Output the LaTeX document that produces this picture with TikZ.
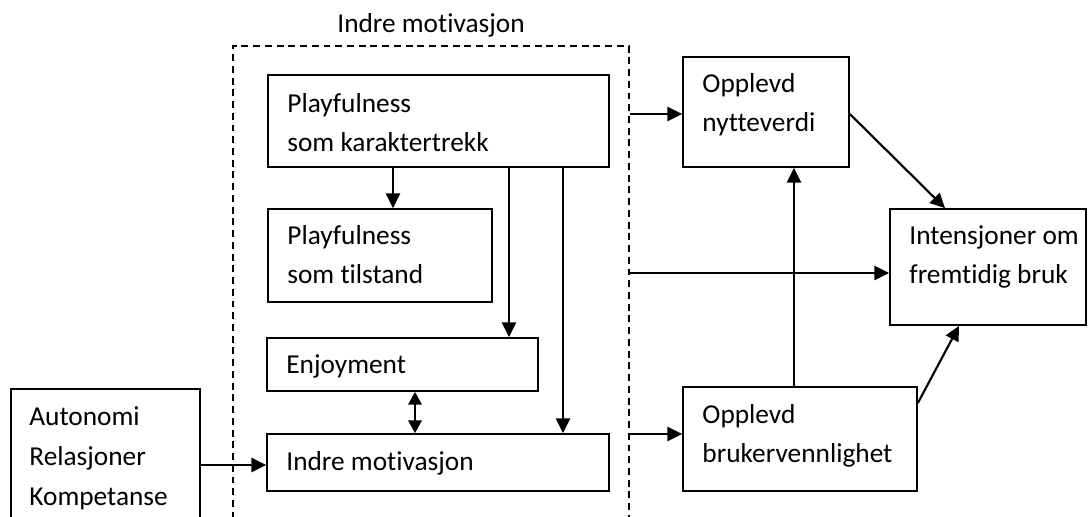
\documentclass[tikz,border=0pt]{standalone}
\usepackage{fontspec}
\setmainfont[Ligatures={NoCommon}]{Carlito}
\usetikzlibrary{arrows.meta,fit}

\begin{document}
\begin{tikzpicture}[x=0.75pt,y=-0.75pt,
  box/.style={draw, line width=1.3pt, inner sep=0pt},
  groupbox/.style={draw, dashed, dash pattern=on 5.2pt off 3.6pt, line width=1.2pt, inner sep=0pt},
  lbl/.style={font=\fontsize{20.5}{29}\selectfont, align=left, inner sep=0pt, anchor=north west},
  arr/.style={line width=1.6pt, -{Triangle[length=11pt,width=10.5pt]}},
  arrtwo/.style={line width=1.6pt, {Triangle[length=9.5pt,width=10pt]}-{Triangle[length=9.5pt,width=10pt]}}
]
\clip (0,0) rectangle (1088,517);

% dashed frame around the intrinsic-motivation block
\node[groupbox, fit={(233,46) (629,560)}] (im) {};
\node[font=\fontsize{20.5}{29}\selectfont, inner sep=0pt, anchor=base] (imtitle)
  at ([yshift=9.75pt]im.north) {Indre motivasjon};

% boxes
\node[box, fit={(268,75) (609,167)}] (kar) {};
\node[box, fit={(268,209) (492,302)}] (til) {};
\node[box, fit={(267,338) (538,391)}] (enj) {};
\node[box, fit={(267,434) (609,491)}] (ind) {};
\node[box, fit={(11,389) (200,560)}] (aut) {};
\node[box, fit={(683,57) (849,167)}] (nyt) {};
\node[box, fit={(683,387) (917,491)}] (bru) {};
\node[box, fit={(890,209) (1086,325)}] (int) {};

% box texts
\node[lbl] (karT) at ([shift={(20,11)}]kar.north west) {\strut Playfulness\\som karaktertrekk};
\node[lbl] (tilT) at ([shift={(20,9)}]til.north west) {\strut Playfulness\\som tilstand};
\node[lbl] (enjT) at ([shift={(20,9)}]enj.north west) {\strut Enjoyment};
\node[lbl] (indT) at ([shift={(20,10)}]ind.north west) {\strut Indre motivasjon};
\node[lbl, font=\fontsize{20.5}{30}\selectfont] (autT) at ([shift={(19,9)}]aut.north west) {\strut Autonomi\\Relasjoner\\Kompetanse};
\node[lbl] (nytT) at ([shift={(20,9)}]nyt.north west) {\strut Opplevd\\nytteverdi};
\node[lbl] (bruT) at ([shift={(20,10)}]bru.north west) {\strut Opplevd\\brukervennlighet};
\node[lbl] (intT) at ([shift={(20,9)}]int.north west) {\strut Intensjoner om\\fremtidig bruk};

% connectors
\draw[arr] (393,0 |- kar.south) -- (393,0 |- til.north);
\draw[arr] (509,0 |- kar.south) -- (509,0 |- enj.north);
\draw[arr] (563,0 |- kar.south) -- (563,0 |- ind.north);
\draw[arrtwo] (415,0 |- enj.south) -- (415,0 |- ind.north);
\draw[arr] (aut.east |- 0,465) -- (ind.west |- 0,465);
\draw[arr] (im.east |- 0,114) -- (nyt.west |- 0,114);
\draw[arr] (im.east |- 0,273) -- (int.west |- 0,273);
\draw[arr] (im.east |- 0,434) -- (bru.west |- 0,434);
\draw[arr] (794,0 |- bru.north) -- (794,0 |- nyt.south);
\draw[arr] (nyt.east |- 0,114) -- (945,0 |- int.north);
\draw[arr] (bru.east |- 0,403) -- (959,0 |- int.south);
\end{tikzpicture}
\end{document}
